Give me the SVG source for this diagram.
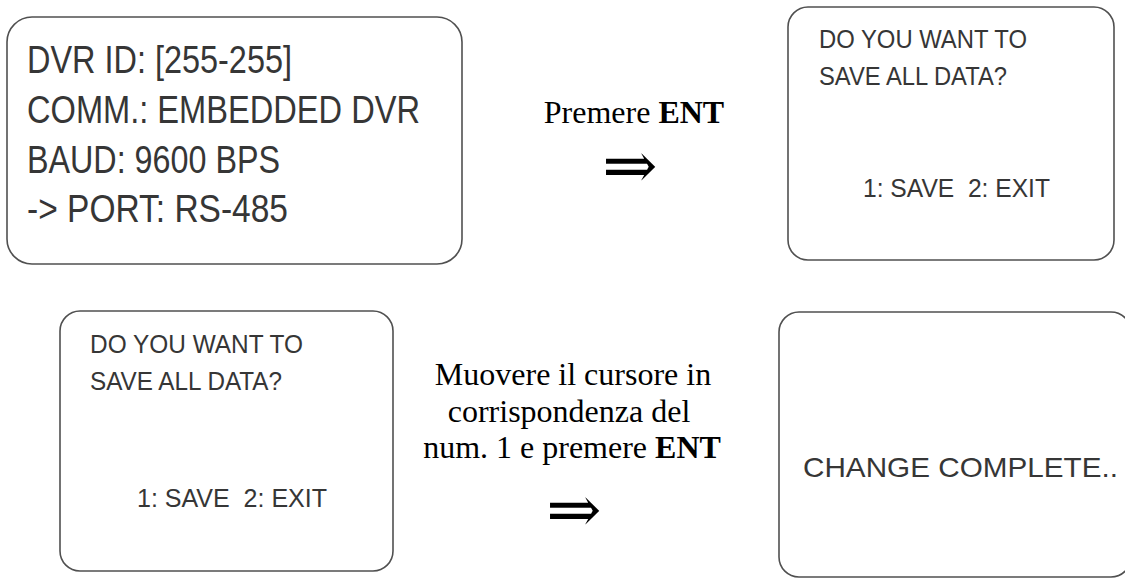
<svg xmlns="http://www.w3.org/2000/svg" width="1125" height="583" viewBox="0 0 1125 583">
<style>
.box{fill:#fff;stroke:#505050;stroke-width:1.6}
.lcd{font-family:"Liberation Sans",Arial,sans-serif;fill:#363636}
.big{font-size:39px}
.sm{font-size:25px}
.lbl{font-family:"Liberation Serif","Times New Roman",serif;font-size:32px;fill:#000;text-anchor:middle}
.arr{font-family:"DejaVu Serif","Liberation Serif",serif;font-size:66px;fill:#000;text-anchor:middle}
</style>
<rect width="1125" height="583" fill="#fff"/>
<g id="screen1">
<rect class="box" x="7" y="17" width="455" height="247" rx="25"/>
<text class="lcd big" x="27" y="73" textLength="265" lengthAdjust="spacingAndGlyphs">DVR ID: [255-255]</text>
<text class="lcd big" x="27" y="123" textLength="393" lengthAdjust="spacingAndGlyphs">COMM.: EMBEDDED DVR</text>
<text class="lcd big" x="27" y="173" textLength="253" lengthAdjust="spacingAndGlyphs">BAUD: 9600 BPS</text>
<text class="lcd big" x="27" y="222" textLength="261" lengthAdjust="spacingAndGlyphs">-&gt; PORT: RS-485</text>
</g>
<g id="screen2">
<rect class="box" x="788" y="7" width="326" height="253" rx="20"/>
<text class="lcd sm" x="819" y="48" textLength="208" lengthAdjust="spacingAndGlyphs">DO YOU WANT TO</text>
<text class="lcd sm" x="819" y="85" textLength="188" lengthAdjust="spacingAndGlyphs">SAVE ALL DATA?</text>
<text class="lcd sm" x="863" y="197" textLength="187" lengthAdjust="spacingAndGlyphs" xml:space="preserve">1: SAVE  2: EXIT</text>
</g>
<g id="screen3">
<rect class="box" x="60" y="311" width="333" height="260" rx="20"/>
<text class="lcd sm" x="90" y="353" textLength="213" lengthAdjust="spacingAndGlyphs">DO YOU WANT TO</text>
<text class="lcd sm" x="90" y="390" textLength="192" lengthAdjust="spacingAndGlyphs">SAVE ALL DATA?</text>
<text class="lcd sm" x="137" y="507" textLength="190" lengthAdjust="spacingAndGlyphs" xml:space="preserve">1: SAVE  2: EXIT</text>
</g>
<g id="screen4">
<rect class="box" x="779" y="312" width="352" height="265" rx="20"/>
<text class="lcd" font-size="28" x="803" y="477" textLength="315" lengthAdjust="spacingAndGlyphs">CHANGE COMPLETE..</text>
</g>
<g id="connectors">
<text class="lbl" x="634" y="123">Premere <tspan font-weight="bold">ENT</tspan></text>
<text class="arr" x="630" y="188">⇒</text>
<text class="lbl" x="573" y="385">Muovere il cursore in</text>
<text class="lbl" x="569" y="422">corrispondenza del</text>
<text class="lbl" x="572" y="458">num. 1 e premere <tspan font-weight="bold">ENT</tspan></text>
<text class="arr" x="574" y="532">⇒</text>
</g>
</svg>
